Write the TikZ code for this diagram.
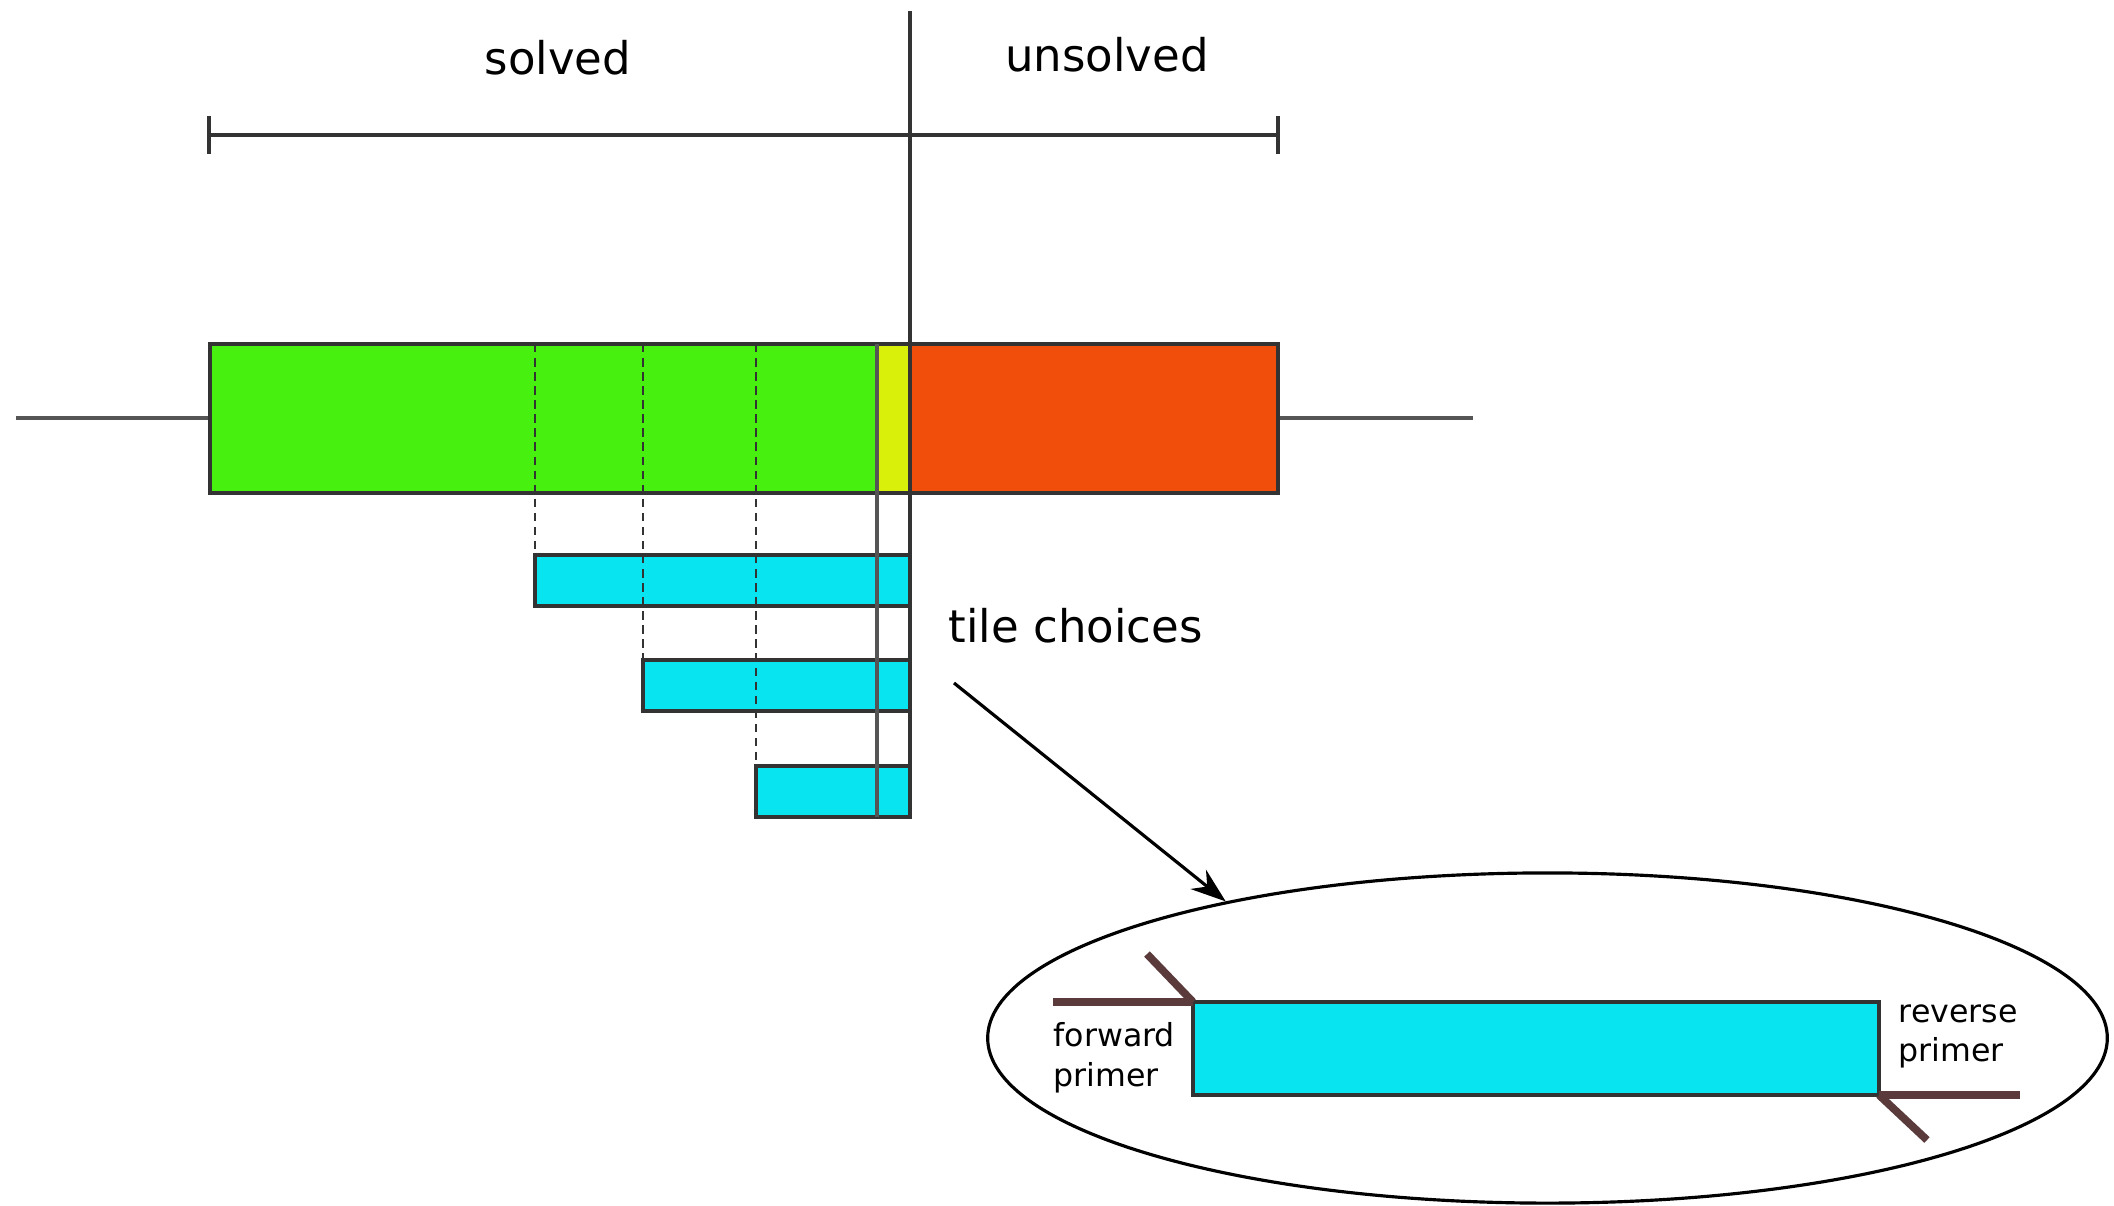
\documentclass[tikz,border=0pt]{standalone}
\usepackage{fontspec}
\setmainfont{DejaVu Sans}
\usetikzlibrary{arrows.meta,positioning,shapes.geometric}
\definecolor{Sc}{HTML}{48F00F}
\definecolor{Yc}{HTML}{D8F00A}
\definecolor{Uc}{HTML}{F04E0A}
\definecolor{Tc}{HTML}{08E4F0}
\definecolor{Pc}{HTML}{5A3A3A}
\definecolor{Ln}{HTML}{333333}
\definecolor{Lg}{HTML}{555555}
\tikzset{
  edge/.style={Ln, line width=1pt},
  seg/.style={rectangle, draw=Ln, line width=1pt, inner sep=0pt, outer sep=0pt, anchor=north west},
  tile/.style={seg, fill=Tc},
  cut/.style={Ln, line width=0.8pt, dash pattern=on 2.4pt off 1.6pt},
  primer/.style={Pc, line width=2.2pt},
  lbl/.style={font=\fontsize{12.8}{15}\selectfont, inner sep=0pt},
  small/.style={font=\fontsize{9}{11.2}\selectfont, align=left, inner sep=0pt, anchor=north west},
  link/.style={-{Stealth[length=10pt, width=7pt]}, line width=0.9pt},
}
\newcommand{\band}[6]{%
  \node[seg, fill=#6, minimum width={(#4-#2)*0.01cm}, minimum height={(#5-#3)*0.01cm}] (#1) at (#2,#3) {};}

\begin{document}
\begin{tikzpicture}[x=0.01cm, y=-0.01cm]
  \useasboundingbox (0,0) rectangle (2114,1205);
  % scale bar
  \coordinate (sL) at (209,135);
  \coordinate (sR) at (1278,135);
  \draw[edge] (sL) -- (sR);
  \draw[edge] ([yshift=0.19cm]sL) -- ([yshift=-0.19cm]sL);
  \draw[edge] ([yshift=0.19cm]sR) -- ([yshift=-0.19cm]sR);
  \node[lbl, anchor=base] (solved) at (558,74) {solved};
  \node[lbl, anchor=base] (unsolved) at (1107,71) {unsolved};
  % genome line and bar
  \coordinate (gL) at (16,418);
  \coordinate (gR) at (1473,418);
  \draw[edge, Lg] (gL) -- (gR);
  \band{bS}{210}{344}{877}{493}{Sc}
  \band{bY}{877}{344}{910}{493}{Yc}
  \band{bU}{910}{344}{1278}{493}{Uc}
  % tiles
  \foreach \tx/\ty [count=\i] in {535/555, 643/660, 756/766}{
    \band{tile\i}{\tx}{\ty}{910}{\ty+51}{Tc}
    \draw[cut] (\tx,344) -- (tile\i.north west);
  }
  \coordinate (dTop) at (910,11);
  \coordinate (dBot) at (910,817);
  \draw[Lg, line width=1pt] (bY.north west) -- (877,817);
  \draw[edge] (dTop) -- (dBot);
  % zoomed tile
  \node[lbl, anchor=base west] (tc) at (948,642) {tile choices};
  \node[ellipse, draw=black, line width=0.9pt, inner sep=0pt, minimum width=11.19cm, minimum height=3.3cm] (zoom) at (1547.5,1038) {};
  \coordinate (tcx) at (954,683);
  \draw[link] (tcx) -- (zoom.157);
  \band{big}{1193}{1002}{1879}{1095}{Tc}
  \draw[primer] ([xshift=-1.4cm]big.north west) -- (big.north west);
  \draw[primer] (big.north west) -- ++(-46,-48);
  \draw[primer] (big.south east) -- ([xshift=1.41cm]big.south east);
  \draw[primer] (big.south east) -- ++(48,45);
  \node[small] (fwd) at (1053,1022) {forward\\primer};
  \node[small] (rev) at (1898,1004) {reverse\\primer};
\end{tikzpicture}
\end{document}
